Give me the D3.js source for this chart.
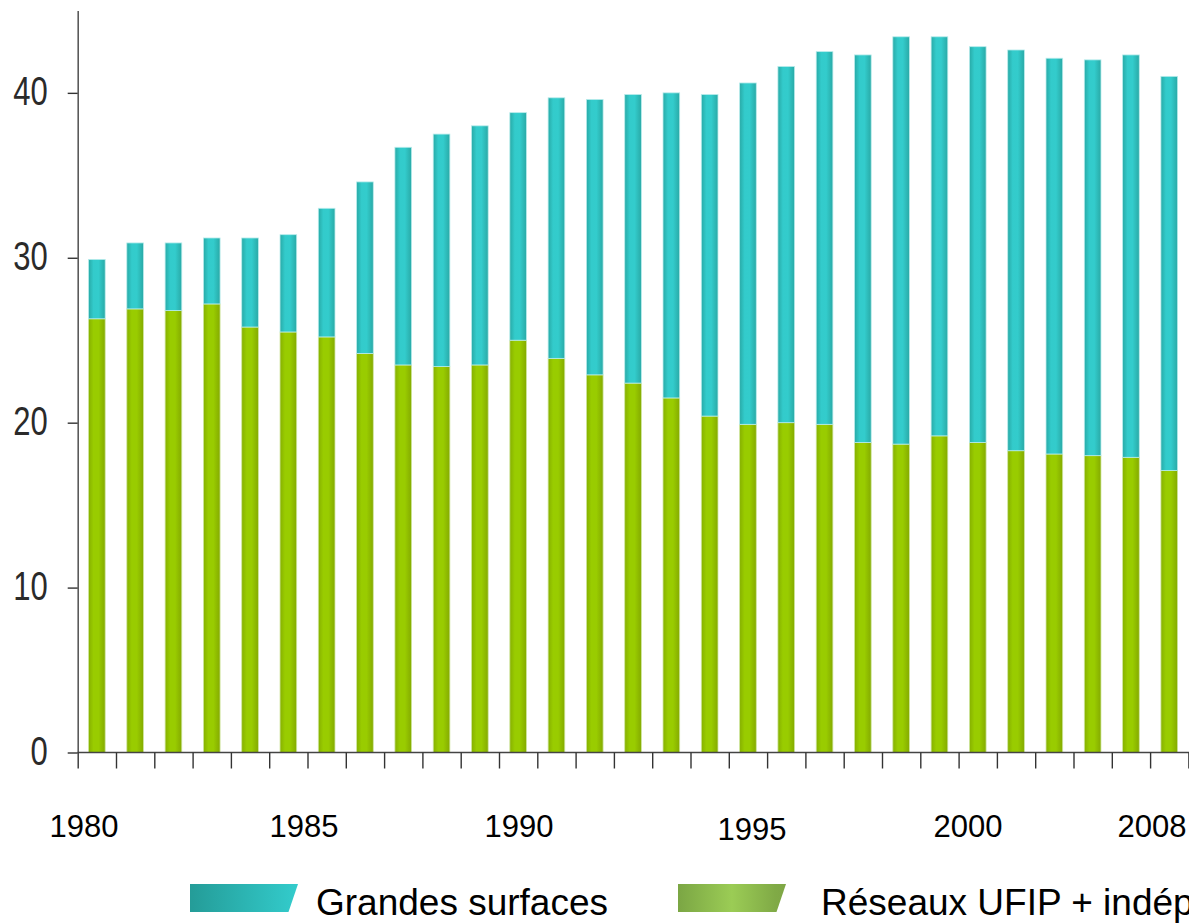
<!DOCTYPE html>
<html>
<head>
<meta charset="utf-8">
<script src="https://cdn.jsdelivr.net/npm/d3@7"></script>
<style>
	body { margin: 0; background: #fff; overflow: hidden; }
	svg { display: block; }
	text { font-family: "Liberation Sans", Arial, sans-serif; }
</style>
</head>
<body>
<svg width="1189" height="923"></svg>
<script>
const years = [1980, 1981, 1982, 1983, 1984, 1985, 1986, 1987, 1988, 1989,
	1990, 1991, 1992, 1993, 1994, 1995, 1996, 1997, 1998, 1999,
	2000, 2001, 2002, 2003, 2004, 2005, 2006, 2007, 2008];
// Réseaux UFIP + indépendants (bottom, green)
const reseauxUfip = [26.3, 26.9, 26.8, 27.2, 25.8, 25.5, 25.2, 24.2, 23.5, 23.4,
	23.5, 25.0, 23.9, 22.9, 22.4, 21.5, 20.4, 19.9, 20.0, 19.9,
	18.8, 18.7, 19.2, 18.8, 18.3, 18.1, 18.0, 17.9, 17.1];
// Grandes surfaces (top, teal)
const grandesSurfaces = [3.6, 4.0, 4.1, 4.0, 5.4, 5.9, 7.8, 10.4, 13.2, 14.1,
	14.5, 13.8, 15.8, 16.7, 17.5, 18.5, 19.5, 20.7, 21.6, 22.6,
	23.5, 24.7, 24.2, 24.0, 24.3, 24.0, 24.0, 24.4, 23.9];
const yTicks = [0, 10, 20, 30, 40];
const yearLabels = ["1980", "1985", "1990", "1995", "2000", "2008"];
const seriesNames = ["Grandes surfaces", "Réseaux UFIP + indépendants"];

// layout (hand placed text boxes in the original)
const labelX = [84, 304, 519, 752, 968, 1152];
const labelY = [837, 837, 837, 840, 837, 837];
const axisLeftX = 77.7, axisRightX = 1188.4;

const svg = d3.select("svg");
const defs = svg.append("defs");

function hGrad(id, stops) {
	const g = defs.append("linearGradient").attr("id", id)
		.attr("x1", 0).attr("x2", 1).attr("y1", 0).attr("y2", 0);
	stops.forEach(s => g.append("stop").attr("offset", s[0]).attr("stop-color", s[1]));
}
hGrad("grad-grandes", [[0, "#28aaa7"], [0.3, "#33cbcb"], [0.6, "#33cccc"], [1, "#29a9a6"]]);
hGrad("grad-reseaux", [[0, "#86b000"], [0.3, "#99cc00"], [0.6, "#99cc00"], [1, "#84aa00"]]);
hGrad("leg-grandes", [[0, "#249c98"], [1, "#33cccc"]]);
hGrad("leg-reseaux", [[0, "#7ba644"], [0.5, "#9bcc55"], [0.9, "#80aa46"], [1, "#7ea645"]]);

const xScale = d3.scaleBand()
	.domain(years)
	.range([axisLeftX, axisRightX])
	.paddingInner(0.565)
	.paddingOuter(0.2825);
const yScale = d3.scaleLinear().domain([0, 45]).range([752.5, 10.4]);

const table = years.map((y, i) => ({
	year: y,
	reseaux: reseauxUfip[i],
	grandes: grandesSurfaces[i],
}));
const stacked = d3.stack().keys(["reseaux", "grandes"])(table);
const strokes = { reseaux: "#cfe6a0", grandes: "#b8ecec" };

svg.append("g")
	.selectAll("g")
	.data(stacked)
	.join("g")
	.attr("fill", d => `url(#grad-${d.key})`)
	.attr("stroke", d => strokes[d.key])
	.attr("stroke-width", 0.8)
	.selectAll("rect")
	.data(d => d)
	.join("rect")
	.attr("x", d => xScale(d.data.year))
	.attr("y", d => yScale(d[1]))
	.attr("width", xScale.bandwidth())
	.attr("height", d => yScale(d[0]) - yScale(d[1]));

// y axis
const yAxis = svg.append("g")
	.attr("transform", `translate(${axisLeftX},0)`)
	.call(d3.axisLeft(yScale).tickValues(yTicks).tickSize(10).tickSizeOuter(0).tickPadding(20));
yAxis.select(".domain").attr("stroke", "#5a5a5a").attr("stroke-width", 1.6);
yAxis.selectAll(".tick line").attr("stroke", "#333").attr("stroke-width", 1.4);
yAxis.selectAll(".tick text")
	.attr("font-family", "'Liberation Sans', Arial, sans-serif")
	.attr("font-size", 31)
	.attr("fill", "#2a2a2a")
	.attr("dy", "0.3em")
	.attr("transform", "scale(1,1.3)");

// x axis: a tick between every year
const tickScale = d3.scaleLinear().domain([0, years.length]).range([axisLeftX, axisRightX]);
const xAxis = svg.append("g")
	.attr("transform", `translate(0,${yScale(0)})`)
	.call(d3.axisBottom(tickScale)
		.tickValues(d3.range(0, years.length + 1))
		.tickFormat("")
		.tickSize(16)
		.tickSizeOuter(0));
xAxis.select(".domain").attr("stroke", "#444").attr("stroke-width", 1.6).attr("d", `M${axisLeftX},0H1189`);
xAxis.selectAll(".tick line").attr("stroke", "#333").attr("stroke-width", 1.4);

svg.append("g")
	.selectAll("text")
	.data(yearLabels)
	.join("text")
	.attr("x", (d, i) => labelX[i])
	.attr("y", (d, i) => labelY[i])
	.attr("text-anchor", "middle")
	.attr("font-size", 31)
	.attr("fill", "#000")
	.text(d => d);

// legend
const legend = [
	{ name: seriesNames[0], fill: "url(#leg-grandes)", x: 190, tx: 316 },
	{ name: seriesNames[1], fill: "url(#leg-reseaux)", x: 678, tx: 821 },
];
const lg = svg.append("g").selectAll("g").data(legend).join("g");
lg.append("path")
	.attr("d", d => `M${d.x},884H${d.x + 108}L${d.x + 98.5},912H${d.x}Z`)
	.attr("fill", d => d.fill);
lg.append("text")
	.attr("x", d => d.tx)
	.attr("y", 915)
	.attr("font-size", 37)
	.attr("fill", "#000")
	.text(d => d.name);
</script>
</body>
</html>
